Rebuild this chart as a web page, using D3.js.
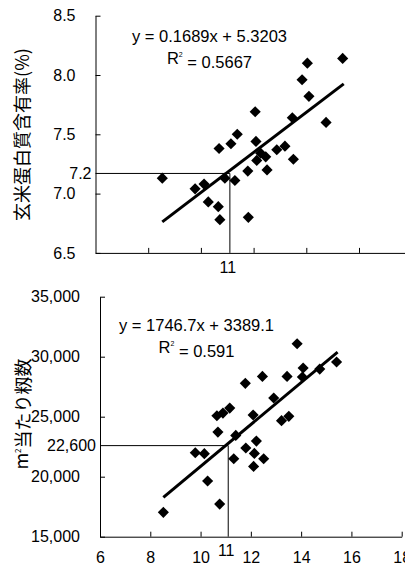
<!DOCTYPE html>
<html><head><meta charset="utf-8">
<script src="https://cdn.jsdelivr.net/npm/d3@7"></script>
<style>
html,body{margin:0;padding:0;background:#fff;}
svg{display:block;}
text{font-family:"Liberation Sans",Arial,sans-serif;fill:#000;}
.jp{font-family:"Noto Sans CJK JP","Noto Sans CJK SC",sans-serif;}
</style></head>
<body><svg id="c" width="405" height="569"></svg>
<script>
// ---- data: top chart (protein %) ----
const topX = [8.535,9.78,10.12,10.28,10.66,10.72,10.69,11.14,11.38,10.91,11.29,11.78,11.80,12.06,12.09,12.12,12.27,12.46,12.51,12.88,13.19,13.51,13.47,13.84,14.04,14.10,14.75,15.38];
const topY = [7.13,7.04,7.08,6.93,6.89,6.78,7.38,7.42,7.50,7.13,7.11,7.19,6.80,7.69,7.44,7.28,7.34,7.31,7.20,7.37,7.40,7.29,7.64,7.96,8.10,7.82,7.60,8.14];
const topFit = [0.1689, 5.3203];
const topYTicks = [6.5, 7.0, 7.5, 8.0, 8.5];
const topXTicks = [8, 10, 12, 14, 16, 18];
const topRef = [11.1, 7.17];
const topRefLabels = ["11", "7.2"];
const topEq = ["y = 0.1689x + 5.3203", "0.5667"];
const topTitle = "玄米蛋白質含有率(%)";

// ---- data: bottom chart (spikelets per m2) ----
const botX = [8.52,9.79,10.15,10.28,10.65,10.89,11.16,10.69,10.76,11.40,11.32,11.78,11.80,12.09,12.22,12.14,12.11,12.51,12.46,12.91,13.22,13.51,13.44,13.84,14.05,14.08,14.74,15.41];
const botY = [17030,22000,21920,19640,25080,25300,25720,23720,17720,23440,21500,27780,22390,25140,22970,21940,20860,21500,28360,26560,24670,25030,28360,31080,28310,29060,28970,29560];
const botFit = [1746.7, 3389.1];
const botYTicks = [15000, 20000, 25000, 30000, 35000];
const botXTicks = [6, 8, 10, 12, 14, 16, 18];
const botRef = [11.1, 22590];
const botRefLabels = ["11", "22,600"];
const botEq = ["y = 1746.7x + 3389.1", "0.591"];
const botTitleMain = "当たり籾数";

const svg = d3.select("#c");
svg.append("rect").attr("width",405).attr("height",569).attr("fill","#fff");

function diamond(g, xs, ys, x, y){
  const sym = d3.symbol().type(d3.symbolSquare).size(62);
  g.selectAll("path.pt").data(xs.map((d,i)=>[d, ys[i]])).join("path")
    .attr("class","pt")
    .attr("d", sym)
    .attr("transform", d=>`translate(${x(d[0])},${y(d[1])}) rotate(45)`)
    .attr("fill","#000");
}

function chart(opt){
  const g = svg.append("g");
  const {x, y} = opt;
  const fs = 16;
  // y axis
  const ya = g.append("g").attr("transform",`translate(${x.range()[0]},0)`)
    .call(d3.axisLeft(y).tickValues(opt.yTicks).tickSizeInner(-5).tickSizeOuter(0).tickPadding(20).tickFormat(opt.yFmt));
  ya.select(".domain").attr("stroke","#000");
  ya.selectAll("line").attr("stroke","#000");
  ya.selectAll("text").attr("font-size",fs).attr("fill","#000").attr("font-family","Liberation Sans, Arial, sans-serif");
  // x axis
  const xa = g.append("g").attr("transform",`translate(0,${y.range()[0]})`)
    .call(d3.axisBottom(x).tickValues(opt.xTicks).tickSizeInner(-5).tickSizeOuter(0).tickPadding(15).tickFormat(opt.xFmt));
  xa.select(".domain").attr("stroke","#000");
  xa.selectAll("line").attr("stroke","#000");
  xa.selectAll("text").attr("font-size",fs).attr("fill","#000").attr("font-family","Liberation Sans, Arial, sans-serif");
  // reference lines
  const [rx, ry] = opt.ref;
  g.append("path")
    .attr("d", `M${x(x.domain()[0])},${y(ry)}H${x(rx)}V${y(y.domain()[0])}`)
    .attr("fill","none").attr("stroke","#000").attr("stroke-width",1);
  g.append("text").attr("x", x(rx)-2).attr("y", y(y.domain()[0])+opt.refXdy)
    .attr("text-anchor","middle").attr("font-size",fs).text(opt.refLabels[0]);
  g.append("text").attr("x", x(x.domain()[0])-4).attr("y", y(ry)).attr("dy","0.35em")
    .attr("text-anchor","end").attr("font-size",fs).text(opt.refLabels[1]);
  // points
  diamond(g, opt.xs, opt.ys, x, y);
  // trend line
  const ext = d3.extent(opt.xs);
  const f = v => opt.fit[0]*v + opt.fit[1];
  g.append("line").attr("x1",x(ext[0])).attr("y1",y(f(ext[0])))
    .attr("x2",x(ext[1]+0.04)).attr("y2",y(f(ext[1]+0.04)))
    .attr("stroke","#000").attr("stroke-width",3);
  // equation
  g.append("text").attr("x",opt.eqX).attr("y",opt.eqY).attr("dy","0.35em")
    .attr("text-anchor","middle").attr("font-size",16.5).text(opt.eq[0]);
  const r2 = g.append("text").attr("x",opt.eqX).attr("y",opt.eqY+22).attr("dy","0.35em")
    .attr("text-anchor","middle").attr("font-size",16.5);
  r2.append("tspan").text("R");
  r2.append("tspan").attr("font-size",7).attr("dy","-0.9em").text("2");
  r2.append("tspan").attr("dy","0.62em").text(" = " + opt.eq[1]);
  return g;
}

const xT = d3.scaleLinear([6,18],[95.5,411.7]);
const yT = d3.scaleLinear([6.5,8.5],[252.9,15.7]);
chart({x:xT, y:yT, xs:topX, ys:topY, fit:topFit, yTicks:topYTicks, xTicks:topXTicks,
  yFmt:d3.format(".1f"), xFmt:()=> "", ref:topRef, refLabels:topRefLabels, refXdy:20,
  eq:topEq, eqX:209.5, eqY:36});
svg.append("text").attr("class","jp")
  .attr("transform","translate(23,134.5) rotate(-90)")
  .attr("text-anchor","middle").attr("dy","0.35em").attr("font-size",18).text(topTitle);

const xB = d3.scaleLinear([6,18],[100,401.7]);
const yB = d3.scaleLinear([15000,35000],[536.7,296.7]);
chart({x:xB, y:yB, xs:botX, ys:botY, fit:botFit, yTicks:botYTicks, xTicks:botXTicks,
  yFmt:d3.format(","), xFmt:d3.format("d"), ref:botRef, refLabels:botRefLabels, refXdy:19,
  eq:botEq, eqX:196.5, eqY:325});
const bt = svg.append("text").attr("class","jp")
  .attr("transform","translate(22,414) rotate(-90)")
  .attr("text-anchor","middle").attr("dy","0.35em").attr("font-size",18);
bt.append("tspan").text("m");
bt.append("tspan").attr("font-size",8).attr("dy","-0.9em").text("2");
bt.append("tspan").attr("dy","0.5em").text(botTitleMain);
</script></body></html>
